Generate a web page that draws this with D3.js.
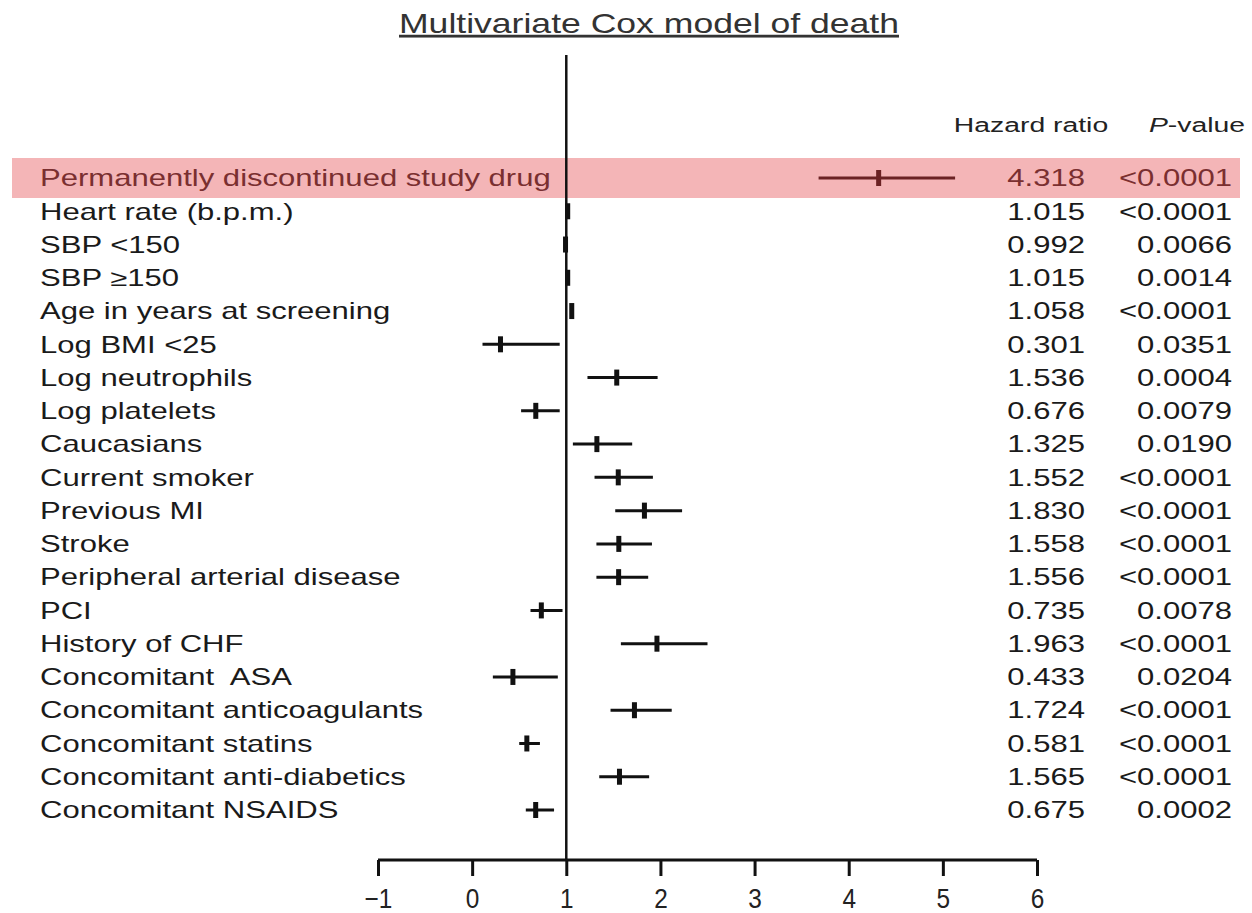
<!DOCTYPE html>
<html>
<head>
<meta charset="utf-8">
<script src="https://cdn.jsdelivr.net/npm/d3@7"></script>
<style>
  body { margin: 0; background: #fff; }
  svg text { font-family: "Liberation Sans", Arial, sans-serif; white-space: pre; }
</style>
</head>
<body>
<div class="chart"></div>
<script>
// row labels, top to bottom
var labels = ["Permanently discontinued study drug", "Heart rate (b.p.m.)", "SBP <150", "SBP \u2265150",
  "Age in years at screening", "Log BMI <25", "Log neutrophils", "Log platelets", "Caucasians",
  "Current smoker", "Previous MI", "Stroke", "Peripheral arterial disease", "PCI", "History of CHF",
  "Concomitant  ASA", "Concomitant anticoagulants", "Concomitant statins", "Concomitant anti-diabetics",
  "Concomitant NSAIDS"];
var hr = [4.318, 1.015, 0.992, 1.015, 1.058, 0.301, 1.536, 0.676, 1.325, 1.552, 1.830, 1.558, 1.556,
  0.735, 1.963, 0.433, 1.724, 0.581, 1.565, 0.675];
var ciLow = [3.68, 1.01, 0.985, 1.01, 1.05, 0.11, 1.225, 0.52, 1.07, 1.30, 1.52, 1.32, 1.32, 0.62, 1.58,
  0.22, 1.47, 0.50, 1.35, 0.57];
var ciHigh = [5.13, 1.02, 0.999, 1.02, 1.07, 0.93, 1.97, 0.93, 1.70, 1.92, 2.23, 1.91, 1.87, 0.96, 2.50,
  0.91, 2.12, 0.72, 1.88, 0.87];
var hrText = ["4.318", "1.015", "0.992", "1.015", "1.058", "0.301", "1.536", "0.676", "1.325", "1.552",
  "1.830", "1.558", "1.556", "0.735", "1.963", "0.433", "1.724", "0.581", "1.565", "0.675"];
var pText = ["<0.0001", "<0.0001", "0.0066", "0.0014", "<0.0001", "0.0351", "0.0004", "0.0079", "0.0190",
  "<0.0001", "<0.0001", "<0.0001", "<0.0001", "0.0078", "<0.0001", "0.0204", "<0.0001", "<0.0001",
  "<0.0001", "0.0002"];
var xTicks = [-1, 0, 1, 2, 3, 4, 5, 6];

var svg = d3.select(".chart").append("svg")
  .attr("width", 1252)
  .attr("height", 913);

var x = d3.scaleLinear().domain([-1, 6]).range([378, 1037]);
var y = d3.scalePoint().domain(d3.range(labels.length)).range([178, 810]);

// the source picture is stretched sideways, so text gets a horizontal scale
var SX = 1.35;

/* title */
svg.append("g")
  .attr("transform", "translate(649,33) scale(1.27,1)")
  .append("text")
  .attr("text-anchor", "middle")
  .attr("font-size", 28)
  .attr("fill", "#333")
  .attr("text-decoration", "underline")
  .text("Multivariate Cox model of death");

/* highlighted row */
svg.append("rect")
  .attr("x", 12).attr("y", y(0) - 20)
  .attr("width", 1228).attr("height", 40)
  .attr("fill", "#f4b5b7");

/* column headers */
svg.append("g")
  .attr("transform", "translate(1031,132) scale(" + SX + ",1)")
  .append("text")
  .attr("text-anchor", "middle")
  .attr("font-size", 21)
  .attr("fill", "#222")
  .text("Hazard ratio");
var ph = svg.append("g")
  .attr("transform", "translate(1245,132) scale(" + SX + ",1)")
  .append("text")
  .attr("text-anchor", "end")
  .attr("font-size", 21)
  .attr("fill", "#222");
ph.append("tspan").attr("font-style", "italic").text("P");
ph.append("tspan").text("-value");

/* reference line at 1 */
svg.append("line")
  .attr("x1", x(1)).attr("x2", x(1))
  .attr("y1", 55).attr("y2", 860)
  .attr("stroke", "#111").attr("stroke-width", 2.5);

var rows = svg.append("g").selectAll("g")
  .data(labels)
  .enter().append("g")
  .attr("transform", function(d, i) { return "translate(0," + y(i) + ")"; });

function col(i) { return i == 0 ? "#6b2224" : "#111"; }
function txtCol(i) { return i == 0 ? "#7a2f30" : "#1a1a1a"; }

rows.append("g")
  .attr("transform", "translate(40,0) scale(" + SX + ",1)")
  .append("text")
  .attr("dy", "0.36em")
  .attr("font-size", 23)
  .attr("fill", function(d, i) { return txtCol(i); })
  .text(function(d) { return d; });

rows.append("line")
  .attr("x1", function(d, i) { return x(ciLow[i]); })
  .attr("x2", function(d, i) { return x(ciHigh[i]); })
  .attr("stroke", function(d, i) { return col(i); })
  .attr("stroke-width", 3);

rows.append("rect")
  .attr("x", function(d, i) { return x(hr[i]) - 2.5; })
  .attr("y", -8)
  .attr("width", 5).attr("height", 16)
  .attr("fill", function(d, i) { return col(i); });

rows.append("g")
  .attr("transform", "translate(1085,0) scale(" + SX + ",1)")
  .append("text")
  .attr("dy", "0.36em")
  .attr("text-anchor", "end")
  .attr("font-size", 23)
  .attr("fill", function(d, i) { return txtCol(i); })
  .text(function(d, i) { return hrText[i]; });

rows.append("g")
  .attr("transform", "translate(1232,0) scale(" + SX + ",1)")
  .append("text")
  .attr("dy", "0.36em")
  .attr("text-anchor", "end")
  .attr("font-size", 23)
  .attr("fill", function(d, i) { return txtCol(i); })
  .text(function(d, i) { return pText[i]; });

/* x axis */
var xAxis = d3.axisBottom(x)
  .tickValues(xTicks)
  .tickSize(16)
  .tickPadding(12)
  .tickFormat(d3.format("d"));

var gx = svg.append("g")
  .attr("transform", "translate(0,860)")
  .call(xAxis);
gx.select(".domain").attr("stroke", "#111").attr("stroke-width", 3)
  .attr("d", "M" + x(-1) + ",0H" + x(6));
gx.selectAll(".tick line").attr("stroke", "#111").attr("stroke-width", 3);
gx.selectAll(".tick text")
  .attr("font-size", 28)
  .attr("transform", "scale(0.87,1)")
  .attr("font-family", "Liberation Sans, Arial, sans-serif")
  .attr("fill", "#222");
</script>
</body>
</html>
